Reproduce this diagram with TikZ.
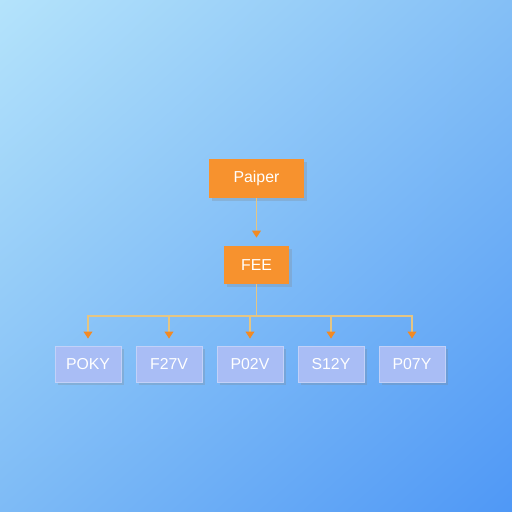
\documentclass[tikz,border=0pt]{standalone}
\usepackage{fontspec}
\setmainfont{Liberation Sans}
\usetikzlibrary{arrows.meta,shadows,shadings}
\definecolor{bgTL}{HTML}{B4E3FB}
\definecolor{bgTR}{HTML}{84BFF6}
\definecolor{bgBL}{HTML}{7EBBF6}
\definecolor{bgBR}{HTML}{4F98F6}
\definecolor{boxO}{HTML}{F7922E}
\definecolor{boxB}{HTML}{A9BDF5}
\definecolor{edgeB}{HTML}{C2D1F8}
\definecolor{linkC}{HTML}{E5C583}
\definecolor{tipC}{HTML}{F28A25}
\begin{document}
\begin{tikzpicture}[x=0.02cm,y=-0.02cm,
  top/.style={shape=rectangle,fill=boxO,text=white,inner sep=0pt,font=\fontsize{9}{10}\selectfont,drop shadow={shadow xshift=0.06cm,shadow yshift=-0.06cm,opacity=0.25}},
  leaf/.style={shape=rectangle,fill=boxB,draw=edgeB,line width=0.5pt,text=white,minimum width=1.32cm,minimum height=0.72cm,inner sep=0pt,font=\fontsize{9}{10}\selectfont,drop shadow={shadow xshift=0.06cm,shadow yshift=-0.06cm,opacity=0.25}},
  link/.style={draw=linkC,line width=0.7pt},
  linkA/.style={link,-{Triangle[color=tipC,length=4pt,width=5pt]}}]
\def\xm{256.5};
\def\ya{178.5};
\def\yb{265};
\def\yc{316};
\def\yd{364};
\def\dx{81};

\shade[upper left=bgTL,upper right=bgTR,lower left=bgBL,lower right=bgBR] (0,0) rectangle (512,512);

\node[top,minimum width=1.9cm,minimum height=0.78cm] (P) at (\xm,\ya) {Paiper};
\node[top,minimum width=1.3cm,minimum height=0.76cm] (F) at (\xm,\yb) {FEE};
\draw[linkA,shorten >=0.16cm] (P.south) -- (F.north);

\coordinate (bus) at (\xm,\yc);
\draw[link] (F.south) -- (bus);

\node[leaf] (K1) at (88,\yd) {POKY};
\node[leaf] (K2) at (88+\dx,\yd) {F27V};
\node[leaf] (K3) at (88+2*\dx,\yd) {P02V};
\node[leaf] (K4) at (88+3*\dx,\yd) {S12Y};
\node[leaf] (K5) at (88+4*\dx,\yd) {P07Y};
\foreach \k in {K1,K2,K3,K4,K5}
  \draw[linkA,shorten >=0.14cm] (bus) -| (\k.north);
\end{tikzpicture}
\end{document}
